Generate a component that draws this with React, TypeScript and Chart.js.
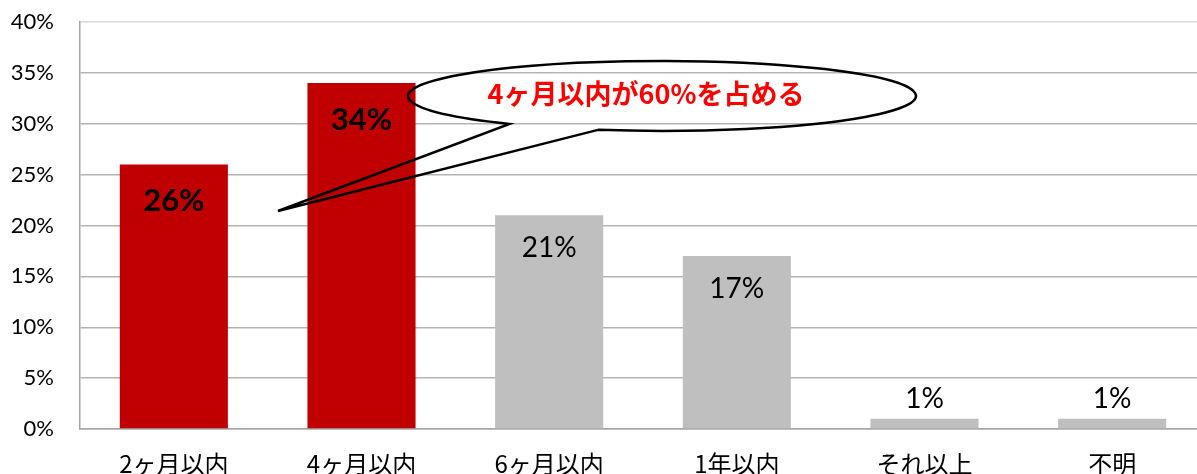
import React, { useEffect, useRef } from "react";
import { Chart, registerables } from "chart.js";

Chart.register(...registerables);

const categories = ["2ヶ月以内", "4ヶ月以内", "6ヶ月以内", "1年以内", "それ以上", "不明"];
const values = [26, 34, 21, 17, 1, 1];
const barColors = ["#c00000", "#c00000", "#bfbfbf", "#bfbfbf", "#bfbfbf", "#bfbfbf"];
const boldLabels = [true, true, false, false, false, false];
const yTicks = [0, 5, 10, 15, 20, 25, 30, 35, 40];
const calloutText = "4ヶ月以内が60%を占める";

const labelPlugin = {
  id: "barLabels",
  afterDatasetsDraw(chart: any) {
    const ctx = chart.ctx;
    const meta = chart.getDatasetMeta(0);
    ctx.save();
    ctx.textAlign = "center";
    ctx.textBaseline = "middle";
    ctx.fillStyle = "#000";
    meta.data.forEach((bar: any, i: number) => {
      const v = values[i];
      const bold = boldLabels[i];
      ctx.font = (bold ? "bold 31px" : "28px") + " Lato, 'Open Sans', sans-serif";
      let y;
      if (v >= 5) y = bar.y + (bold ? 37 : 33);
      else y = bar.y - 20;
      ctx.fillText(v + "%", bar.x, y);
    });
    ctx.restore();
  },
};

const calloutPlugin = {
  id: "callout",
  afterDraw(chart: any) {
    const ctx = chart.ctx;
    const cx = 662, cy = 96, rx = 254, ry = 35;
    const tipX = 278, tipY = 211;
    const tA = Math.atan2(0.771, -0.5787);
    const tB = Math.atan2(0.968, -0.252);
    const ax = cx + rx * Math.cos(tA), ay = cy + ry * Math.sin(tA);
    const bx = cx + rx * Math.cos(tB), by = cy + ry * Math.sin(tB);
    ctx.save();
    ctx.beginPath();
    ctx.moveTo(bx, by);
    ctx.lineTo(tipX, tipY);
    ctx.lineTo(ax, ay);
    ctx.ellipse(cx, cy, rx, ry, 0, tA, tB + Math.PI * 2, false);
    ctx.lineWidth = 2.5;
    ctx.strokeStyle = "#000";
    ctx.lineJoin = "miter";
    ctx.stroke();
    ctx.fillStyle = "#ff0000";
    ctx.font = "bold 27px 'Noto Sans CJK JP', sans-serif";
    ctx.textAlign = "center";
    ctx.textBaseline = "middle";
    ctx.fillText(calloutText, 646, 94);
    ctx.restore();
  },
};

export default function App() {
  const ref = useRef<HTMLCanvasElement>(null);
  useEffect(() => {
    const canvas = ref.current!;
    const chart = new Chart(canvas, {
      type: "bar",
      data: {
        labels: categories,
        datasets: [
          {
            data: values,
            backgroundColor: barColors,
            categoryPercentage: 1,
            barPercentage: 0.576,
          },
        ],
      },
      options: {
        animation: false,
        responsive: false,
        devicePixelRatio: 1,
        layout: { padding: { top: 22, right: 4, left: 0, bottom: 0 } },
        plugins: { legend: { display: false }, tooltip: { enabled: false } },
        scales: {
          x: {
            grid: { display: false },
            border: { display: true, color: "#a6a6a6", width: 1.5 },
            ticks: {
              color: "#000",
              padding: 12,
              maxRotation: 0,
              autoSkip: false,
              font: { family: "'Noto Sans CJK JP', sans-serif", size: 24 },
            },
            afterFit(scale: any) {
              scale.height = 45;
              scale.paddingLeft = 0;
              scale.paddingRight = 0;
            },
          },
          y: {
            min: 0,
            max: 40,
            afterBuildTicks(scale: any) {
              scale.ticks = yTicks.map((v) => ({ value: v }));
            },
            grid: {
              drawTicks: false,
              color: (c: any) => (c.tick && c.tick.value === 40 ? "#d9d9d9" : "#b4b4b4"),
              lineWidth: 1.5,
            },
            border: { display: true, color: "#a6a6a6", width: 1.5 },
            ticks: {
              color: "#000",
              padding: 26,
              font: { family: "Lato, 'Open Sans', sans-serif", size: 22 },
              callback: (v: any) => v + "%",
            },
            afterFit(scale: any) {
              scale.width = 80;
              scale.paddingTop = 12;
              scale.paddingBottom = 0;
            },
          },
        },
      },
      plugins: [labelPlugin, calloutPlugin],
    });
    return () => chart.destroy();
  }, []);
  return (
    <div style={{ position: "fixed", left: 0, top: 0, width: 1210, height: 474, background: "#fff" }}>
      <canvas ref={ref} width={1210} height={474} style={{ display: "block" }} />
    </div>
  );
}
